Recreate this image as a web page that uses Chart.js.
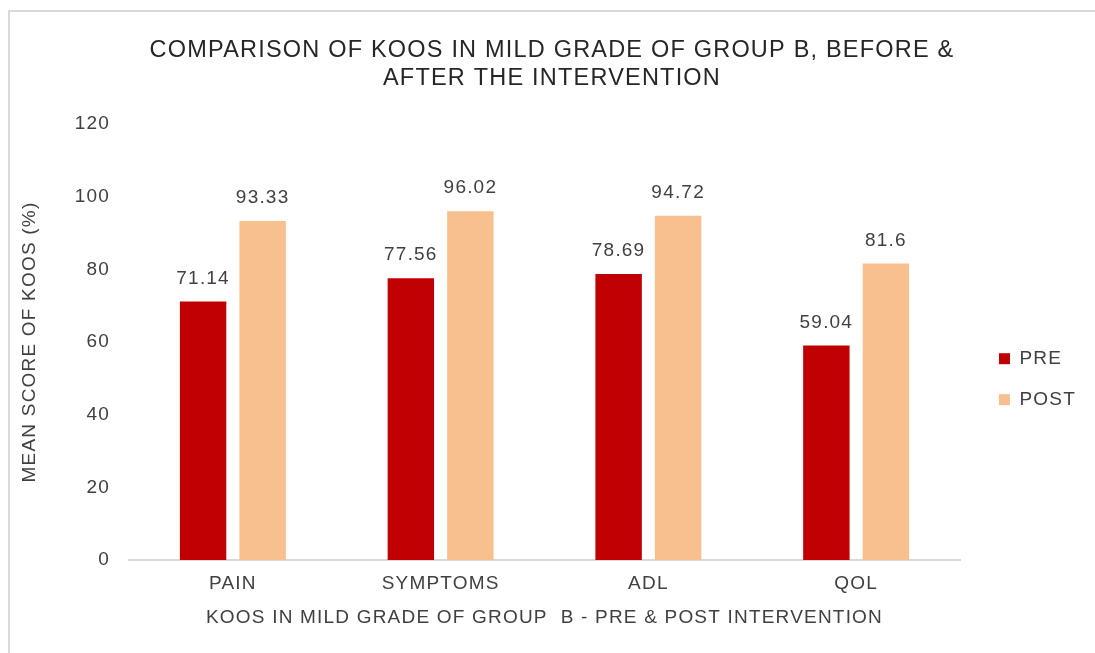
<!DOCTYPE html>
<html>
<head>
<meta charset="utf-8">
<script src="https://cdn.jsdelivr.net/npm/chart.js@4"></script>
<style>
  html, body { margin: 0; padding: 0; background: #ffffff; overflow: hidden; }
  #wrap { position: relative; width: 1095px; height: 653px; }
  #frame { position: absolute; left: 8px; top: 10px; width: 2000px; height: 2000px;
           border-top: 2px solid #d9d9d9; border-left: 2px solid #d9d9d9; pointer-events: none; }
  canvas { position: absolute; left: 0; top: 0; }
</style>
</head>
<body>
<div id="wrap">
  <div id="frame"></div>
  <canvas id="c" width="1095" height="653"></canvas>
</div>
<script>
const categories = ['PAIN', 'SYMPTOMS', 'ADL', 'QOL'];
const seriesNames = ['PRE', 'POST'];
const preValues = [71.14, 77.56, 78.69, 59.04];
const postValues = [93.33, 96.02, 94.72, 81.6];
const yMin = 0, yMax = 120, yStep = 20;
const chartTitle = ['COMPARISON OF KOOS IN MILD GRADE OF GROUP B, BEFORE &', 'AFTER THE INTERVENTION'];
const xTitle = 'KOOS IN MILD GRADE OF GROUP  B - PRE & POST INTERVENTION';
const yTitle = 'MEAN SCORE OF KOOS (%)';

const FONT = "'Liberation Sans', Arial, sans-serif";
Chart.defaults.font.family = FONT;
Chart.defaults.color = '#404040';

const spacing = {
  id: 'spacing',
  beforeUpdate(chart) { chart.ctx.letterSpacing = '1.2px'; },
  beforeDraw(chart) { chart.ctx.letterSpacing = '1.2px'; }
};

const valueLabels = {
  id: 'valueLabels',
  afterDatasetsDraw(chart) {
    const ctx = chart.ctx;
    ctx.save();
    ctx.font = "19px " + FONT;
    ctx.fillStyle = '#404040';
    ctx.textAlign = 'center';
    ctx.textBaseline = 'middle';
    chart.data.datasets.forEach((ds, di) => {
      const meta = chart.getDatasetMeta(di);
      meta.data.forEach((el, i) => {
        ctx.fillText(String(ds.data[i]), el.x, el.y - 23);
      });
    });
    ctx.restore();
  }
};

new Chart(document.getElementById('c'), {
  type: 'bar',
  data: {
    labels: categories,
    datasets: [
      { label: seriesNames[0], data: preValues, backgroundColor: '#C00000', borderWidth: 0,
        categoryPercentage: 0.573, barPercentage: 0.78 },
      { label: seriesNames[1], data: postValues, backgroundColor: '#F8BF8F', borderWidth: 0,
        categoryPercentage: 0.573, barPercentage: 0.78 }
    ]
  },
  options: {
    responsive: false,
    animation: false,
    devicePixelRatio: 1,
    layout: { padding: { left: 21, right: 12, top: 0, bottom: 0 } },
    plugins: {
      tooltip: { enabled: false },
      title: {
        display: true,
        text: chartTitle,
        color: '#262626',
        font: { size: 23.5, weight: 'normal', lineHeight: 1.2 },
        padding: { top: 36, bottom: 31.6 }
      },
      legend: {
        position: 'right',
        fullSize: false,
        maxWidth: 106,
        align: 'center',
        title: { display: true, text: ' ', padding: { top: 0, bottom: 60 }, font: { size: 12 } },
        labels: {
          boxWidth: 11,
          boxHeight: 11,
          padding: 22,
          color: '#404040',
          font: { size: 19 }
        }
      }
    },
    scales: {
      x: {
        type: 'category',
        offset: true,
        grid: { display: false, drawTicks: false },
        border: { display: true, color: '#d9d9d9', width: 2 },
        ticks: { color: '#404040', font: { size: 19 }, padding: 12, maxRotation: 0 },
        title: { display: true, text: xTitle, color: '#404040', font: { size: 19 }, padding: { top: 0, bottom: 24 } },
        afterFit(s) { s.height = 93; }
      },
      y: {
        position: 'left',
        min: yMin,
        max: yMax,
        ticks: { stepSize: yStep, color: '#404040', font: { size: 19 }, padding: 19 },
        grid: { display: false, drawTicks: false },
        border: { display: false },
        title: { display: true, text: yTitle, color: '#404040', font: { size: 19 }, padding: { top: -2.4, bottom: 0 } },
        afterFit(s) { s.width = 108; }
      },
      yRightSpacer: {
        position: 'right',
        display: true,
        min: yMin,
        max: yMax,
        grid: { display: false, drawTicks: false },
        border: { display: false },
        ticks: { display: false },
        afterFit(s) { s.width = 17; }
      }
    }
  },
  plugins: [spacing, valueLabels]
});
</script>
</body>
</html>
